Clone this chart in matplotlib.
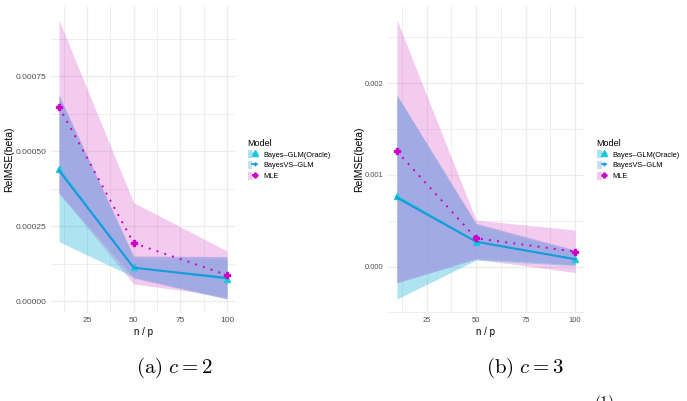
import matplotlib
matplotlib.use("Agg")
import matplotlib.pyplot as plt
from matplotlib.patches import Patch
from matplotlib.lines import Line2D
from matplotlib.legend_handler import HandlerTuple

plt.rcParams['font.family'] = ['Liberation Sans', 'DejaVu Sans']
plt.rcParams['mathtext.fontset'] = 'cm'

# n / p values
n_over_p = [10, 50, 100]

# panel (a): c = 2
a_oracle = [0.000440, 0.000112, 0.0000740]
a_oracle_lo = [0.000198, 0.000080, 0.000010]
a_oracle_hi = [0.000680, 0.000140, 0.000140]
a_vs = [0.000435, 0.000111, 0.0000770]
a_vs_lo = [0.000359, 0.0000767, 0.0000067]
a_vs_hi = [0.000687, 0.000150, 0.000148]
a_mle = [0.000648, 0.000193, 0.0000867]
a_mle_lo = [0.000360, 0.000057, 0.000015]
a_mle_hi = [0.000937, 0.000328, 0.000167]

# panel (b): c = 3
b_oracle = [0.000767, 0.000272, 0.0000800]
b_oracle_lo = [-0.000355, 0.000070, 0.000010]
b_oracle_hi = [0.001870, 0.000450, 0.000160]
b_vs = [0.000750, 0.000270, 0.0000800]
b_vs_lo = [-0.000174, 0.000087, 0.000020]
b_vs_hi = [0.001870, 0.000470, 0.000180]
b_mle = [0.001257, 0.000308, 0.000163]
b_mle_lo = [-0.000180, 0.000080, -0.000065]
b_mle_hi = [0.002690, 0.000507, 0.000398]

models = ['Bayes\u2013GLM(Oracle)', 'BayesVS\u2013GLM', 'MLE']

pink_fill = '#da62ce'
cyan_fill = '#18b2da'
lav_fill = '#a2a4e2'
mle_col = '#cc00c8'
oracle_col = '#19c6dc'
vs_col = '#1d96dc'
grid_col = '#ebebeb'


def draw_panel(ax, mle, mle_lo, mle_hi, orc, orc_lo, orc_hi, vs, vs_lo, vs_hi,
               yticks, ylabels, yminor, ylim, tsize):
    ax.fill_between(n_over_p, mle_lo, mle_hi, color=pink_fill, alpha=0.33, lw=0, zorder=2)
    ax.fill_between(n_over_p, orc_lo, orc_hi, color=cyan_fill, alpha=0.35, lw=0, zorder=2)
    ax.fill_between(n_over_p, vs_lo, vs_hi, color=lav_fill, alpha=0.8, lw=0, zorder=2)
    ax.plot(n_over_p, orc, color=oracle_col, lw=1.3, marker='^', ms=4, zorder=3)
    ax.plot(n_over_p, vs, color=vs_col, lw=1.4, zorder=4)
    ax.plot(n_over_p, mle, color=mle_col, lw=1.4, ls=(0, (1, 3.2)), zorder=5)
    ax.plot(n_over_p, mle, color=mle_col, lw=0, marker='P', ms=4, zorder=5)

    ax.set_xlim(5.5, 104.5)
    ax.set_ylim(*ylim)
    ax.set_xticks([25, 50, 75, 100])
    ax.set_xticklabels(['25', '50', '75', '100'])
    ax.set_xticks([12.5, 37.5, 62.5, 87.5], minor=True)
    ax.set_yticks(yticks)
    ax.set_yticklabels(ylabels)
    ax.set_yticks(yminor, minor=True)
    ax.grid(True, which='major', color=grid_col, lw=0.9, zorder=0)
    ax.grid(True, which='minor', color=grid_col, lw=0.6, zorder=0)
    ax.set_axisbelow(True)
    for s in ax.spines.values():
        s.set_visible(False)
    ax.tick_params(which='both', length=0, labelsize=tsize, labelcolor='#4d4d4d', pad=3)
    ax.set_xlabel('n / p', fontsize=7, labelpad=2)
    ax.set_ylabel('RelMSE(beta)', fontsize=7.5, labelpad=1)


def add_legend(ax):
    handles = [
        (Patch(facecolor='#a8e4f2', edgecolor='none'),
         Line2D([], [], color=oracle_col, marker='^', ms=4, lw=1.0)),
        (Patch(facecolor='#c2e2f4', edgecolor='none'),
         Line2D([], [], color=vs_col, marker='+', ms=3.5, lw=1.2)),
        (Patch(facecolor='#f2c8ee', edgecolor='none'),
         Line2D([], [], color=mle_col, marker='P', ms=3.5, lw=1.2, ls=(0, (1, 2)))),
    ]
    leg = ax.legend(handles, models, handler_map={tuple: HandlerTuple(ndivide=None, pad=0)},
                    loc='center left', bbox_to_anchor=(1.05, 0.5), frameon=False,
                    title='Model', fontsize=5.3, title_fontsize=6.5,
                    handlelength=1.3, handleheight=1.2, handletextpad=0.8,
                    labelspacing=0.35, borderaxespad=0)
    leg._legend_box.align = 'left'


fig = plt.figure(figsize=(6.87, 4.01), dpi=100)

ax1 = fig.add_axes([50.6 / 687, 88 / 401, 184.8 / 687, 307 / 401])
draw_panel(ax1, a_mle, a_mle_lo, a_mle_hi, a_oracle, a_oracle_lo, a_oracle_hi,
           a_vs, a_vs_lo, a_vs_hi,
           [0, 0.00025, 0.0005, 0.00075], ['0.00000', '0.00025', '0.00050', '0.00075'],
           [0.000125, 0.000375, 0.000625, 0.000875], (-0.00004, 0.000984), 6)
add_legend(ax1)

ax2 = fig.add_axes([388 / 687, 88 / 401, 196 / 687, 307 / 401])
draw_panel(ax2, b_mle, b_mle_lo, b_mle_hi, b_oracle, b_oracle_lo, b_oracle_hi,
           b_vs, b_vs_lo, b_vs_hi,
           [0, 0.001, 0.002], ['0.000', '0.001', '0.002'],
           [-0.0005, 0.0005, 0.0015, 0.0025], (-0.000507, 0.002842), 5.4)
add_legend(ax2)

fig.text(174 / 687, 1 - 368 / 401, r'$\mathrm{(a)}\ c = 2$', ha='center', va='center', fontsize=15)
fig.text(525 / 687, 1 - 368 / 401, r'$\mathrm{(b)}\ c = 3$', ha='center', va='center', fontsize=15)
fig.text(604 / 687, 1 - 393 / 401, r'$\mathrm{(1)}$', ha='center', va='top', fontsize=11)

fig.savefig('out.png', dpi=100)
